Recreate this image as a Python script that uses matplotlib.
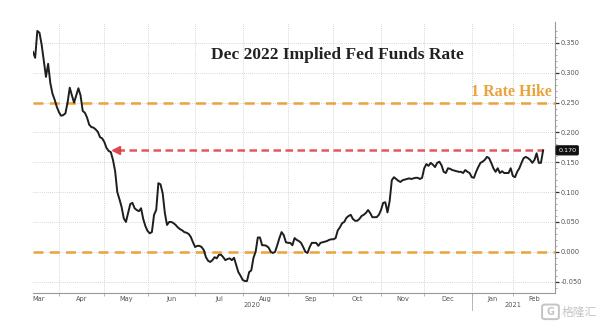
import numpy as np
import pandas as pd
import matplotlib
matplotlib.use('Agg')
import matplotlib.pyplot as plt
import matplotlib.transforms as mtransforms
from matplotlib.patches import FancyBboxPatch

# Exchange holidays inside the window (x axis counts trading days only)
holidays = ['2020-04-10', '2020-05-25', '2020-07-03', '2020-09-07', '2020-11-26',
            '2020-12-25', '2021-01-01', '2021-01-18', '2021-02-15']

# Dec 2022 implied fed funds rate, one value per trading day from 16 Mar 2020
rate_mar = [0.335, 0.325, 0.370, 0.367, 0.347, 0.320, 0.293, 0.315, 0.283, 0.265, 0.255, 0.243]
rate_apr = [0.234, 0.228, 0.229, 0.232, 0.250, 0.275, 0.262, 0.250, 0.262, 0.274, 0.262,
            0.236, 0.233, 0.225, 0.213, 0.209, 0.208, 0.205, 0.201, 0.192, 0.190]
rate_may = [0.184, 0.174, 0.169, 0.167, 0.154, 0.135, 0.100, 0.088, 0.075, 0.056,
            0.050, 0.065, 0.080, 0.082, 0.073, 0.070, 0.068, 0.073, 0.055, 0.043]
rate_jun = [0.035, 0.031, 0.033, 0.062, 0.070, 0.115, 0.113, 0.098, 0.065, 0.045, 0.050,
            0.050, 0.048, 0.045, 0.041, 0.038, 0.036, 0.033, 0.032, 0.030, 0.025, 0.016]
rate_jul = [0.008, 0.010, 0.010, 0.008, 0.003, -0.009, -0.015, -0.017, -0.014, -0.009, -0.011,
            -0.005, -0.005, -0.009, -0.014, -0.012, -0.011, -0.014, -0.010, -0.022, -0.034, -0.040]
rate_aug = [-0.047, -0.049, -0.049, -0.034, -0.031, -0.010, 0.000, 0.024, 0.024, 0.011, 0.011,
            0.010, 0.007, 0.000, -0.002, 0.000, 0.011, 0.023, 0.033, 0.028, 0.016]
rate_sep = [0.015, 0.015, 0.011, 0.023, 0.020, 0.018, 0.015, 0.008, 0.000, -0.002, 0.008,
            0.015, 0.015, 0.015, 0.010, 0.015, 0.016, 0.017, 0.018, 0.020, 0.021]
rate_oct = [0.021, 0.023, 0.036, 0.041, 0.048, 0.050, 0.057, 0.060, 0.062, 0.055, 0.052,
            0.052, 0.055, 0.060, 0.062, 0.065, 0.070, 0.065, 0.058, 0.058, 0.058, 0.062]
rate_nov = [0.070, 0.082, 0.083, 0.066, 0.085, 0.120, 0.125, 0.122, 0.119, 0.117,
            0.120, 0.121, 0.122, 0.123, 0.122, 0.123, 0.124, 0.124, 0.122, 0.124]
rate_dec = [0.140, 0.147, 0.144, 0.149, 0.146, 0.142, 0.149, 0.151, 0.145, 0.134, 0.132,
            0.140, 0.139, 0.137, 0.136, 0.135, 0.134, 0.134, 0.132, 0.137, 0.134, 0.132]
rate_jan = [0.125, 0.124, 0.134, 0.142, 0.149, 0.151, 0.154, 0.159, 0.157, 0.149,
            0.140, 0.134, 0.140, 0.132, 0.135, 0.132, 0.132, 0.132, 0.140]
rate_feb = [0.127, 0.125, 0.134, 0.140, 0.149, 0.157, 0.159, 0.157, 0.154, 0.149,
            0.154, 0.165, 0.149, 0.149, 0.170]

rate = (rate_mar + rate_apr + rate_may + rate_jun + rate_jul + rate_aug + rate_sep
        + rate_oct + rate_nov + rate_dec + rate_jan + rate_feb)

hike_level = 0.25
zero_level = 0.0
last_level = 0.170
hike_label = '1 Rate Hike'
title = 'Dec 2022 Implied Fed Funds Rate'
month_names = ['Mar', 'Apr', 'May', 'Jun', 'Jul', 'Aug', 'Sep', 'Oct', 'Nov', 'Dec', 'Jan', 'Feb']
year_names = ['2020', '2021']

days = pd.bdate_range('2020-03-16', '2021-03-01', freq='C', holidays=holidays)
x = np.arange(len(rate))
x_end = len(days) - 1 + 0.5

# first trading day of every month -> tick positions
month_id = days.year * 12 + days.month
starts = [i for i in range(1, len(days)) if month_id[i] != month_id[i - 1]]
bounds = [0] + starts[:-1] + [x_end]

fig = plt.figure(figsize=(5.99, 3.25), dpi=100)
ax = fig.add_axes([33 / 599, 1 - 293 / 325, (555 - 33) / 599, (293 - 22) / 325])

ax.set_xlim(0, x_end)
ax.set_ylim(-0.069, 0.385)

grid_kw = dict(color='#c8c8c8', lw=0.6, ls=(0, (1, 1.5)), zorder=0)
for s in starts[:-1]:
    ax.axvline(s, **grid_kw)
for v in np.arange(-0.05, 0.351, 0.05):
    ax.axhline(v, **grid_kw)

orange = '#eba33a'
ax.axhline(hike_level, color=orange, lw=1.8, ls=(0, (4, 2.5)), zorder=2)
ax.axhline(zero_level, color=orange, lw=1.8, ls=(0, (4, 2.5)), zorder=2)

# red dashed pointer from the last print back to early May
red = '#dd3b45'
arrow_left = 37
ax.plot([arrow_left + 2, x[-1]], [last_level, last_level], color=red, lw=1.8,
        ls=(0, (3, 1.8)), alpha=0.85, zorder=3)
ax.plot([arrow_left + 1.5], [last_level], marker='<', ms=6, color=red, mec=red, alpha=0.9, zorder=3)

ax.plot(x, rate, color='#1e1e1e', lw=1.4, zorder=4)

# spines
for side in ['left', 'top']:
    ax.spines[side].set_visible(False)
ax.spines['right'].set_color('#999999')
ax.spines['bottom'].set_color('#999999')
ax.spines['right'].set_linewidth(0.8)
ax.spines['bottom'].set_linewidth(0.8)

# right hand value axis
ax.yaxis.tick_right()
ax.set_yticks(np.arange(-0.05, 0.351, 0.05))
ax.set_yticks(np.arange(-0.06, 0.38, 0.01), minor=True)
ax.yaxis.set_major_formatter(lambda v, p: f'{v:.3f}')
ax.tick_params(axis='y', which='major', length=3, width=0.9, color='#333333',
               labelsize=4.8, labelcolor='#555555', pad=1)
ax.tick_params(axis='y', which='minor', length=1.5, width=0.5, color='#888888')

# month ticks and labels
ax.set_xticks(starts[:-1])
ax.set_xticklabels([])
ax.tick_params(axis='x', which='major', length=2, width=0.5, color='#999999')
mids = [(bounds[k] + bounds[k + 1]) / 2 for k in range(len(bounds) - 1)]
mids[0] = 2.8
ax.set_xticks(mids, minor=True)
ax.set_xticklabels(month_names, minor=True)
ax.tick_params(axis='x', which='minor', length=0, labelsize=4.8, labelcolor='#555555', pad=2.5)

trans = mtransforms.blended_transform_factory(ax.transData, ax.transAxes)
jan = starts[9]
ax.text((0 + jan) / 2, -0.044, year_names[0], transform=trans, ha='center', va='center',
        fontsize=4.8, color='#555555')
ax.text((jan + x_end) / 2, -0.044, year_names[1], transform=trans, ha='center', va='center',
        fontsize=4.8, color='#555555')
ax.plot([jan, jan], [0, -0.063], transform=trans, color='#aaaaaa', lw=0.6, clip_on=False)

# last value tag on the right axis
trans_r = mtransforms.blended_transform_factory(ax.transAxes, ax.transData)
ax.text(1.006, last_level, f'{last_level:.3f}', transform=trans_r, ha='left', va='center',
        fontsize=4.6, color='white',
        bbox=dict(boxstyle='round,pad=0.3,rounding_size=0.15', fc='#111111', ec='#111111'))

ax.text(0.583, 0.878, title, transform=ax.transAxes, ha='center', va='center',
        fontsize=12.5, fontweight='bold', family='Liberation Serif', color='#222222')
ax.text(x_end - 1.5, hike_level + 0.017, hike_label, transform=ax.transData, ha='right', va='center',
        fontsize=11.5, fontweight='bold', family='Liberation Serif', color=orange)

# corner watermark
fig.text(0.938, 0.04, '格隆汇', ha='left', va='center', fontsize=8.5,
         family=['Noto Sans CJK SC', 'DejaVu Sans'], color='#c4c4c4', zorder=10)
logo = FancyBboxPatch((0.905, 0.018), 0.028, 0.045, boxstyle='round,pad=0.0,rounding_size=0.006',
                      transform=fig.transFigure, fc='none', ec='#c4c4c4', lw=1.4, zorder=10)
fig.patches.append(logo)
fig.text(0.919, 0.04, 'G', ha='center', va='center', fontsize=7, fontweight='bold',
         color='#c4c4c4', zorder=10)

fig.savefig('out.png', dpi=100)
